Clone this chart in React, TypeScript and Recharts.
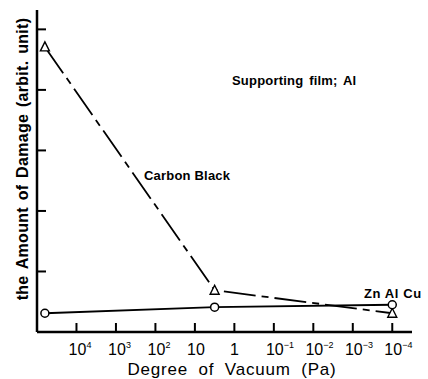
import { LineChart, Line, XAxis, YAxis } from 'recharts'

// x = -log10(pressure in Pa), so higher vacuum goes to the right
const vacuum = [-4.8, -0.5, 4]
const carbonBlack = [4.71, 0.69, 0.31]
const znAlCu = [0.31, 0.41, 0.45]

const tickValues = [-4, -3, -2, -1, 0, 1, 2, 3, 4]
const tickExponents = [4, 3, 2, 1, 0, -1, -2, -3, -4]
const yTicks = [1, 2, 3, 4, 5]

const data = vacuum.map((x, i) => ({ x, carbon: carbonBlack[i], metal: znAlCu[i] }))

const FONT = '"Liberation Sans", Arial, sans-serif'

function XTick({ x, y, payload }: any) {
  const e = tickExponents[tickValues.indexOf(payload.value)]
  return (
    <g>
      <line x1={x} x2={x} y1={y} y2={y - 9} stroke="#000" strokeWidth={2} />
      {e === 0 ? (
        <text x={x} y={y + 23} textAnchor="middle" fontSize={16} fontFamily={FONT}>1</text>
      ) : (
        <>
          <text x={x + 1} y={y + 23} textAnchor="middle" fontSize={16} fontFamily={FONT}>10</text>
          {e !== 1 && (
            <text x={x + 10} y={y + 16} fontSize={9} fontFamily={FONT}>
              {e < 0 ? `\u2212${-e}` : e}
            </text>
          )}
        </>
      )}
    </g>
  )
}

function YTick({ x, y }: any) {
  return <line x1={x} x2={x + 9} y1={y} y2={y} stroke="#000" strokeWidth={2} />
}

function Triangle({ cx, cy }: any) {
  return (
    <polygon
      points={`${cx},${cy - 5} ${cx - 4.5},${cy + 4} ${cx + 4.5},${cy + 4}`}
      fill="#fff" stroke="#000" strokeWidth={1.4}
    />
  )
}

function Circle({ cx, cy }: any) {
  return <circle cx={cx} cy={cy} r={4} fill="#fff" stroke="#000" strokeWidth={1.5} />
}

export default function App() {
  return (
    <div style={{ position: 'absolute', left: 0, top: 0, background: '#fff' }}>
      <LineChart width={428} height={379} data={data} margin={{ top: 10, right: 16, left: 0, bottom: 0 }}>
        <XAxis
          type="number" dataKey="x" domain={[-5, 4.5]} ticks={tickValues} interval={0}
          height={47} tickSize={0} tickMargin={0} tickLine={false} tick={<XTick />}
          axisLine={{ stroke: '#000', strokeWidth: 2.5 }} allowDataOverflow
        />
        <YAxis
          type="number" domain={[0, 5.32]} ticks={yTicks} interval={0}
          width={37} tickSize={0} tickMargin={0} tickLine={false} tick={<YTick />}
          axisLine={{ stroke: '#000', strokeWidth: 2.5 }} allowDataOverflow
        />
        <Line
          dataKey="carbon" type="linear" stroke="#000" strokeWidth={1.8}
          strokeDasharray="32 6 7 6" dot={<Triangle />} activeDot={false} isAnimationActive={false}
        />
        <Line
          dataKey="metal" type="linear" stroke="#000" strokeWidth={1.8}
          dot={<Circle />} activeDot={false} isAnimationActive={false}
        />
        <text
          x={232} y={375} textAnchor="middle" fontSize={17} fontFamily={FONT}
          letterSpacing={0.8} wordSpacing={5}
        >
          Degree of Vacuum (Pa)
        </text>
        <text
          x={22} y={159} textAnchor="middle" dominantBaseline="central" fontSize={16} fontWeight="bold"
          fontFamily={FONT} letterSpacing={0.3} wordSpacing={2} transform="rotate(-90, 22, 159)"
        >
          the Amount of Damage (arbit. unit)
        </text>
        <text x={232} y={85} fontSize={13} fontWeight="bold" fontFamily={FONT} letterSpacing={0.2} wordSpacing={2}>
          Supporting film; Al
        </text>
        <text x={144} y={180} fontSize={13} fontWeight="bold" fontFamily={FONT} letterSpacing={0.2}>
          Carbon Black
        </text>
        <text x={364} y={298} fontSize={13} fontWeight="bold" fontFamily={FONT} letterSpacing={0.6}>
          Zn Al Cu
        </text>
      </LineChart>
    </div>
  )
}
